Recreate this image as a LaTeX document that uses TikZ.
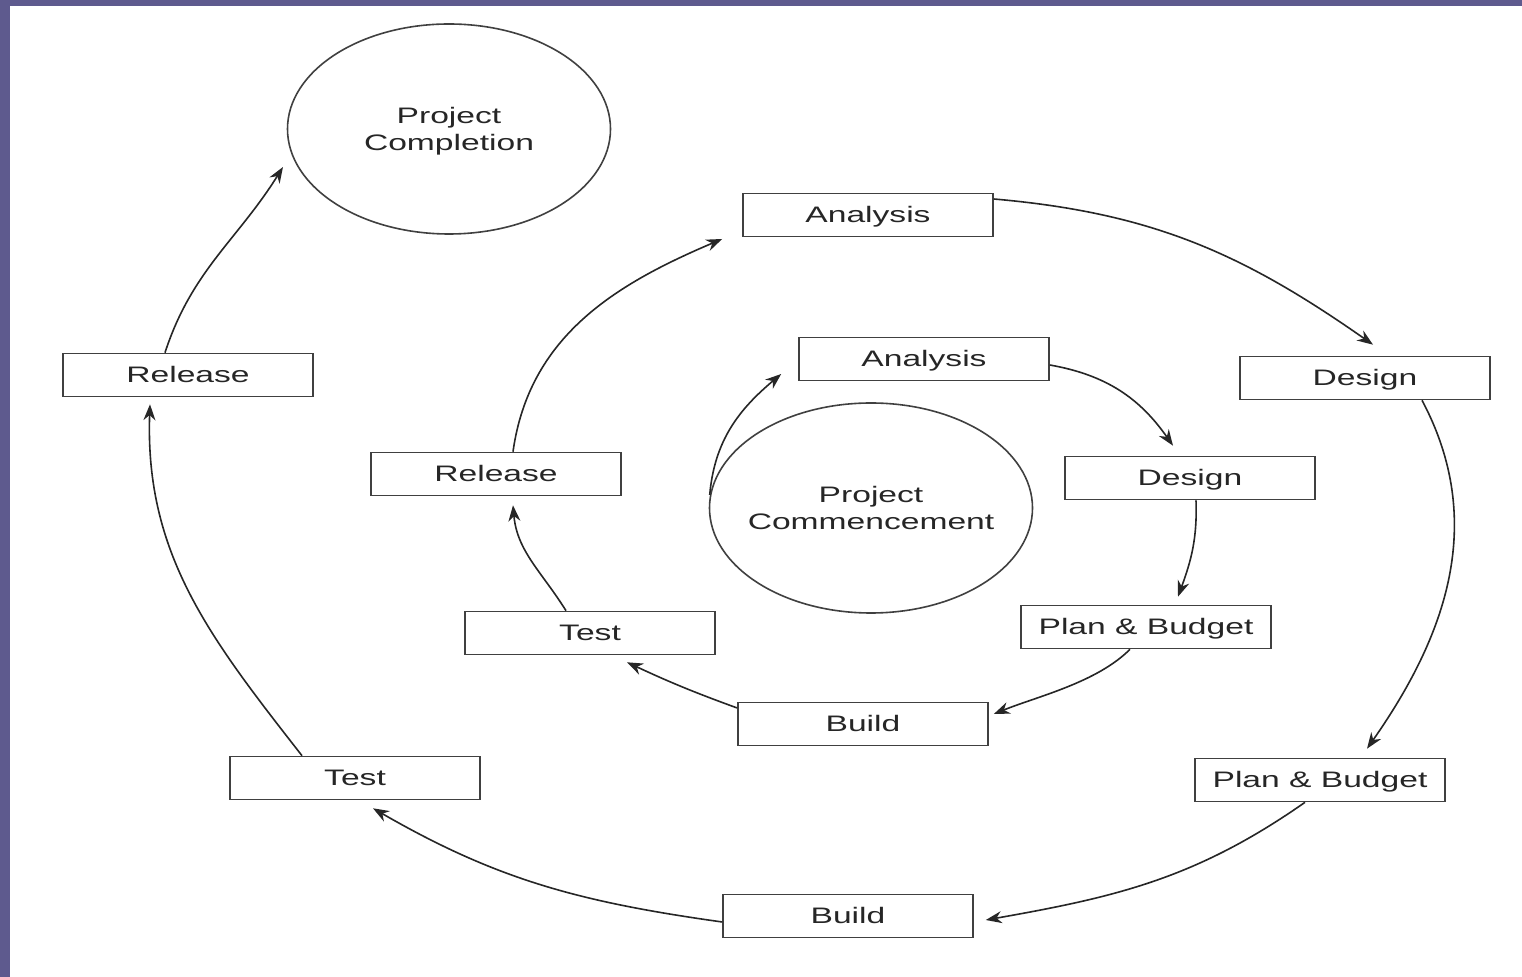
\documentclass[tikz,border=0pt]{standalone}
\usepackage{fontspec}
\setmainfont[FakeStretch=1.5]{Liberation Sans}
\usetikzlibrary{arrows.meta,calc,shapes.geometric}
\definecolor{frame}{RGB}{94,90,142}

\begin{document}
\begin{tikzpicture}[x=0.5pt,y=0.5pt,font=\fontsize{11.2}{13.5}\selectfont,
  stage/.style={draw=black!75,line width=0.8pt,minimum width=125pt,minimum height=21.5pt,inner sep=0pt,text height=8pt,text depth=0pt,text=black!85},
  milestone/.style={draw=black!75,line width=0.8pt,ellipse,minimum width=161.5pt,minimum height=105pt,inner sep=0pt},
  flow/.style={draw=black!85,line width=0.8pt,-{Stealth[length=8pt,width=6pt]}}]
  \useasboundingbox (0,0) rectangle (1522,-977);
  \fill[white] (0,0) rectangle (1522,-977);
  \fill[frame] (0,0) rectangle (10,-977);
  \fill[frame] (0,0) rectangle (1522,-6);
  % milestones
  \node[milestone,label={[align=center,text=black!85,yshift=-1pt]center:Project\\Completion}] (comp) at (449,-129) {};
  \node[milestone,label={[align=center,text=black!85]center:Project\\Commencement}] (comm) at (871,-508) {};
  % outer loop
  \node[stage] (oana) at (868,-215) {Analysis};
  \node[stage] (odes) at (1365,-378) {Design};
  \node[stage] (opb) at (1320,-780) {Plan \& Budget};
  \node[stage] (obld) at (848,-916) {Build};
  \node[stage] (otst) at (355,-778) {Test};
  \node[stage] (orel) at (188,-375) {Release};
  % inner loop
  \node[stage] (iana) at (924,-359) {Analysis};
  \node[stage] (ides) at (1190,-478) {Design};
  \node[stage] (ipb) at (1146,-627) {Plan \& Budget};
  \node[stage] (ibld) at (863,-724) {Build};
  \node[stage] (itst) at (590,-633) {Test};
  \node[stage] (irel) at (496,-474) {Release};
  % inner arrows
  \draw[flow] ($(comm.west)+(1,13)$) to[out=85,in=-140] ($(iana.west)+(-17,-15)$);
  \draw[flow] ($(iana.east)+(0,-6)$) to[out=-10,in=125] ($(ides.north)+(-17,10)$);
  \draw[flow] ($(ides.south)+(6,0)$) to[out=-88,in=70] ($(ipb.north)+(32,8)$);
  \draw[flow] ($(ipb.south)+(-16,0)$) to[out=-135,in=22,looseness=0.8] ($(ibld.east)+(5,10)$);
  \draw[flow] ($(ibld.west)+(0,16)$) to[out=160,in=-25] ($(itst.south)+(37,-7)$);
  \draw[flow] ($(itst.north)+(-24,0)$) to[out=122,in=-85] ($(irel.south)+(17,-9)$);
  \draw[flow] ($(irel.north)+(17,0)$) to[out=82,in=-157] ($(oana.west)+(-20,-24)$);
  % outer arrows
  \draw[flow] ($(oana.east)+(0,16)$) to[out=-5,in=145] ($(odes.north)+(8,11)$);
  \draw[flow] ($(odes.south)+(57,0)$) to[out=-62,in=55] ($(opb.north)+(47,9)$);
  \draw[flow] ($(opb.south)+(-15,0)$) to[out=-145,in=10] ($(obld.east)+(12,-4)$);
  \draw[flow] ($(obld.west)+(0,-6)$) to[out=172,in=-30] ($(otst.south)+(18,-8)$);
  \draw[flow] ($(otst.north)+(-53,0)$) to[out=128,in=-92] ($(orel.south)+(-38,-7)$);
  \draw[flow] ($(orel.north)+(-23,0)$) to[out=72,in=-122] ($(comp.center)+(-166,-38)$);
\end{tikzpicture}
\end{document}
